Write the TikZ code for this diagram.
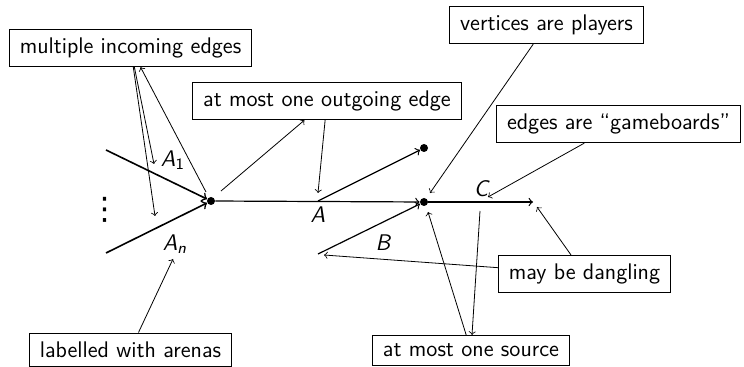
\documentclass[tikz,border=0pt]{standalone}
\usepackage{fontspec}
\newfontfamily\dejavu{DejaVu Sans}
\begin{document}
\begin{tikzpicture}[x=0.5pt,y=-0.5pt,
    note/.style={draw,thin,inner xsep=5.2pt,inner ysep=4.3pt,font=\sffamily\fontsize{11.3}{13}\selectfont},
    lbl/.style={inner sep=1pt,font=\sffamily\itshape\fontsize{11.3}{13}\selectfont},
    vertex/.style={circle,fill,inner sep=0pt,minimum size=4pt},
    edge/.style={semithick,->},
    hint/.style={thin,->}]
  \useasboundingbox (0,0) rectangle (744,367);

  % the game graph
  \node[vertex] (v1) at (211,201) {};
  \node[vertex] (v2) at (424,202) {};
  \node[vertex] (v3) at (424,148) {};
  \coordinate (a1) at (106,150);
  \coordinate (an) at (106,253);
  \coordinate (amid) at (318,201);
  \coordinate (bs) at (318,254);
  \coordinate (cend) at (533,202);
  \draw[edge,thick] (a1) -- (v1);
  \draw[edge,thick] (an) -- (v1);
  \draw[edge] (v1) -- (v2);
  \draw[edge] (amid) -- (v3);
  \draw[edge] (bs) -- (v2);
  \draw[edge] (v2) -- (cend);
  \node[inner sep=0pt,font=\dejavu\fontsize{15.5}{15.5}\selectfont] (dots) at (105,209.5) {⋮};
  \node[lbl] (la1) at (173,160) {A\textsubscript{\upshape 1}};
  \node[lbl] (lan) at (175,244) {A\textsubscript{n}};
  \node[lbl] (la) at (318,215) {A};
  \node[lbl] (lb) at (383,243) {B};
  \node[lbl] (lc) at (481,189) {C};

  % remarks
  \node[note] (multi) at (130.5,48) {multiple incoming edges};
  \node[note] (outgo) at (327,101) {at most one outgoing edge};
  \node[note] (players) at (546.5,25) {vertices are players};
  \node[note] (boards) at (618.5,124) {edges are “gameboards”};
  \node[note] (dangle) at (584.5,274) {may be dangling};
  \node[note] (source) at (471,350.5) {at most one source};
  \node[note] (arenas) at (130.5,349.5) {labelled with arenas};

  \coordinate (p1) at (154,164);
  \coordinate (p2) at (155,216);
  \coordinate (p3) at (206,192);
  \coordinate (p4) at (221,191);
  \coordinate (p5) at (318,193);
  \coordinate (p6) at (430,193);
  \coordinate (p7) at (488,197);
  \coordinate (p8) at (537,207);
  \coordinate (p9) at (324,255);
  \coordinate (p10) at (428,212);
  \coordinate (p11) at (480,211);
  \coordinate (p12) at (173,259);

  \draw[hint] (multi) -- (p1);
  \draw[hint] (multi) -- (p2);
  \draw[hint] (p3) -- (multi);
  \draw[hint] (p4) -- (outgo);
  \draw[hint] (outgo) -- (p5);
  \draw[hint] (players) -- (p6);
  \draw[hint] (boards) -- (p7);
  \draw[hint] (dangle) -- (p8);
  \draw[hint] (dangle) -- (p9);
  \draw[hint] (source) -- (p10);
  \draw[hint] (p11) -- (source);
  \draw[hint] (arenas) -- (p12);
\end{tikzpicture}
\end{document}
